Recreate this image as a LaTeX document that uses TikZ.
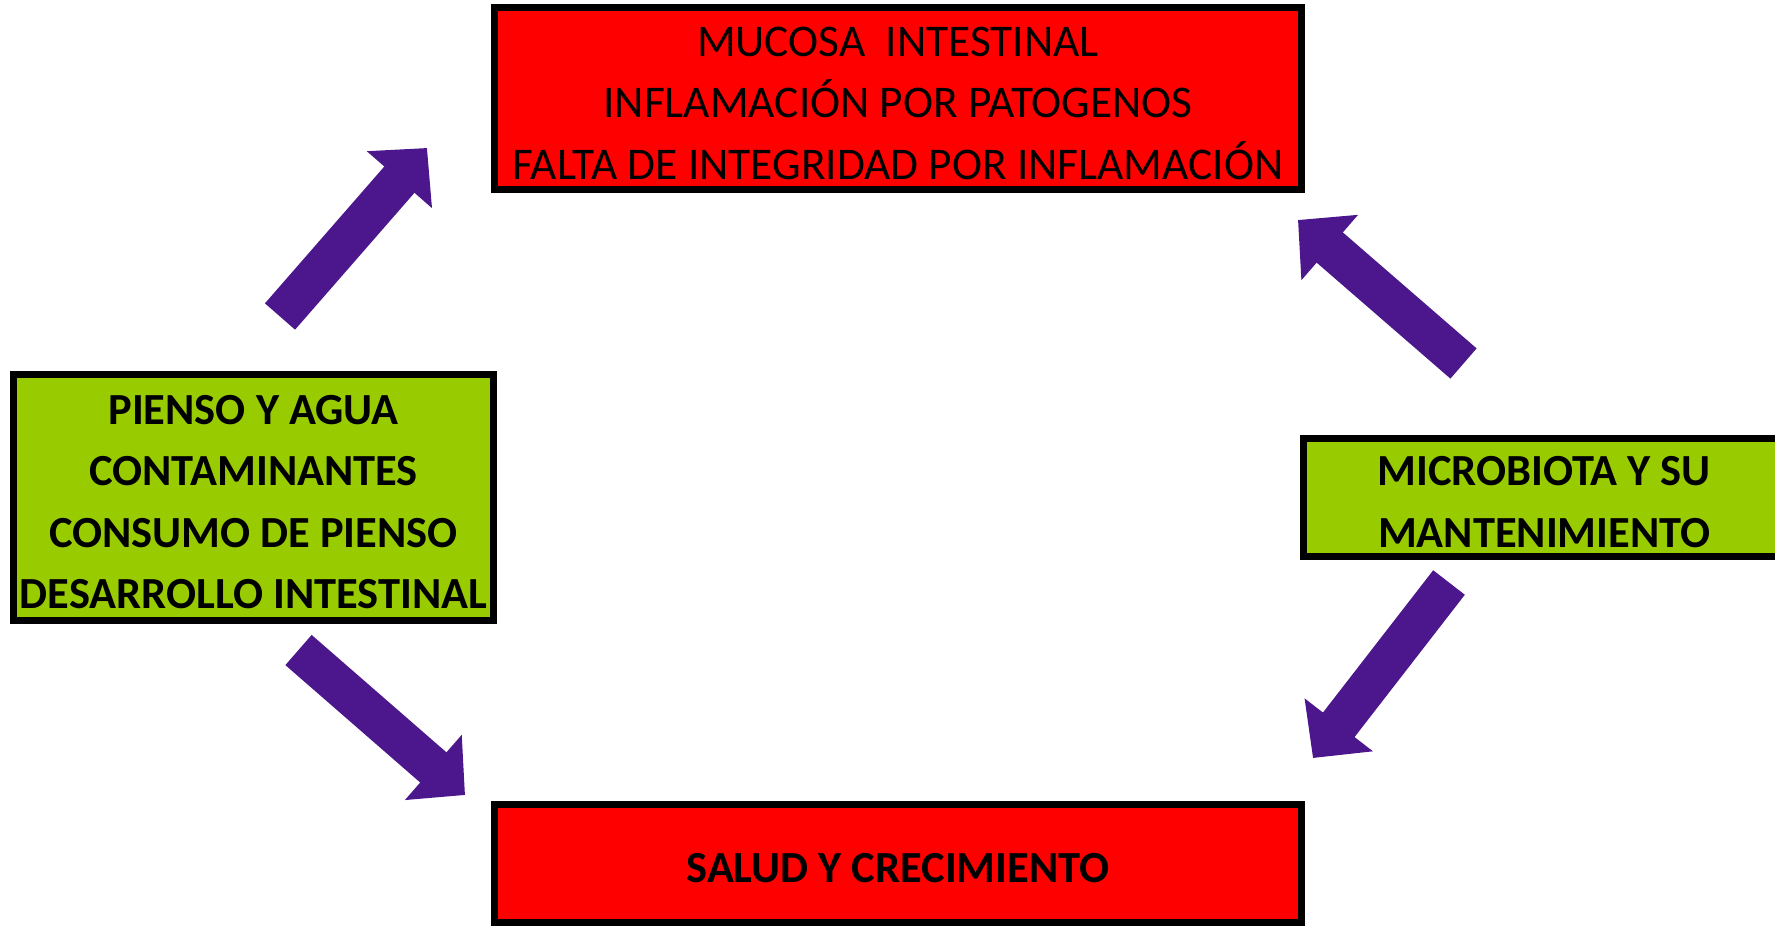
\documentclass[tikz,border=0pt]{standalone}
\usepackage{fontspec}
\setmainfont{Carlito}
\usetikzlibrary{arrows.meta}
\definecolor{rojo}{RGB}{255,0,0}
\definecolor{verde}{RGB}{153,204,0}
\definecolor{morado}{RGB}{76,22,140}
\newcommand{\alto}{\rule{0pt}{11pt}}

\begin{document}
\begin{tikzpicture}[
  caja/.style={draw=black, line width=0.07cm, align=center, inner sep=0pt, font=\fontsize{12.9}{17.5}\selectfont},
  negrita/.style={font=\fontsize{12.65}{17.5}\selectfont\bfseries},
  flecha/.style={line width=0.4cm, morado, -{Triangle[length=0.42cm, width=0.84cm]}}]
\useasboundingbox (0,0) rectangle (17.75,-9.26);
\clip (0,0) rectangle (17.75,-9.26);
\node[caja, fill=rojo, minimum width=8.07cm, minimum height=1.82cm] (mucosa) at (8.98,-0.985) {\alto MUCOSA\ \ INTESTINAL\\INFLAMACIÓN POR PATOGENOS\\FALTA DE INTEGRIDAD POR INFLAMACIÓN};
\node[caja, negrita, fill=verde, minimum width=4.80cm, minimum height=2.46cm] (pienso) at (2.535,-4.975) {\alto PIENSO Y AGUA\\CONTAMINANTES\\CONSUMO DE PIENSO\\DESARROLLO INTESTINAL};
\node[caja, negrita, fill=verde, minimum width=4.815cm, minimum height=1.18cm] (microbiota) at (15.4425,-4.975) {\alto MICROBIOTA Y SU\\MANTENIMIENTO};
\node[caja, negrita, fill=rojo, minimum width=8.07cm, minimum height=1.18cm] (salud) at (8.98,-8.635) {\alto SALUD Y CRECIMIENTO};
\coordinate (p1) at (2.80,-3.165);
\coordinate (q1) at (4.27,-1.48);
\coordinate (p2) at (14.635,-3.635);
\coordinate (q2) at (12.98,-2.20);
\coordinate (p3) at (2.985,-6.50);
\coordinate (q3) at (4.65,-7.95);
\coordinate (p4) at (14.49,-5.825);
\coordinate (q4) at (13.13,-7.58);
\draw[flecha] (p1) -- (q1);
\draw[flecha] (p2) -- (q2);
\draw[flecha] (p3) -- (q3);
\draw[flecha] (p4) -- (q4);
\end{tikzpicture}
\end{document}
